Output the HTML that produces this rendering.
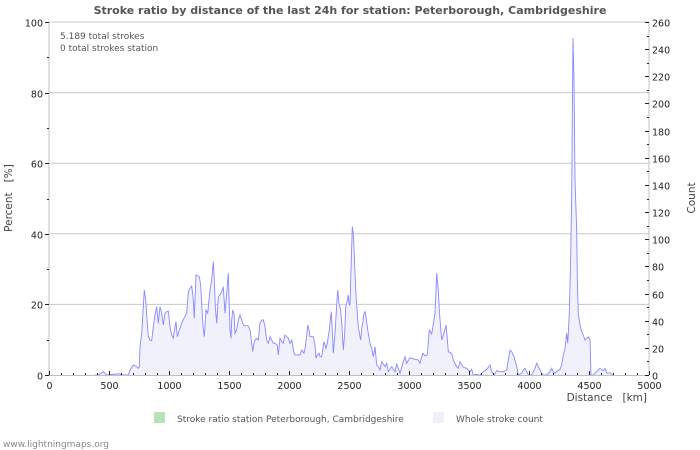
<!DOCTYPE html>
<html><head><meta charset="utf-8"><style>
body{margin:0;background:#fff;}
svg{display:block;font-family:"DejaVu Sans","Liberation Sans",sans-serif;}
</style></head><body>
<svg id="s" width="700" height="450" viewBox="0 0 700 450" xmlns="http://www.w3.org/2000/svg">
<text x="350" y="14" text-anchor="middle" font-size="11" font-weight="bold" fill="#555">Stroke ratio by distance of the last 24h for station: Peterborough, Cambridgeshire</text>
<g id="grid" stroke="#c8c8c8" stroke-width="1"></g>
<path id="area" fill="#f1f1fc" stroke="none"/>
<polyline id="line" fill="none" stroke="#8888ff" stroke-width="0.9"/>
<g id="axes" stroke="#c0c0c0" stroke-width="1"></g>
<g id="ticks" stroke="#222" stroke-width="1"></g>
<g id="labels" font-size="9.5" fill="#222"></g>
<text x="60" y="39" font-size="9" fill="#555">5.189 total strokes</text>
<text x="60" y="51" font-size="9" fill="#555">0 total strokes station</text>
<text x="12" y="198" font-size="10.5" fill="#444" text-anchor="middle" transform="rotate(-90 12 198)">Percent&#160;&#160;&#160;[%]</text>
<text x="695" y="198" font-size="10.5" fill="#444" text-anchor="middle" transform="rotate(-90 695 198)">Count</text>
<text x="647" y="401" font-size="10.5" fill="#444" text-anchor="end">Distance&#160;&#160;&#160;[km]</text>
<rect x="154" y="412" width="11" height="11" fill="#b8e3b8"/>
<text x="177" y="422" font-size="9" fill="#555">Stroke ratio station Peterborough, Cambridgeshire</text>
<rect x="433" y="412" width="11" height="11" fill="#f0f0fc"/>
<text x="456" y="422" font-size="9" fill="#555">Whole stroke count</text>
<text x="3" y="447" font-size="9" fill="#888">www.lightningmaps.org</text>
</svg>
<script>
var NS="http://www.w3.org/2000/svg";
function el(p,t,a){var e=document.createElementNS(NS,t);for(var k in a)e.setAttribute(k,a[k]);document.getElementById(p).appendChild(e);return e;}
var L=49,R=649,T=22,B=375;
for(var p=20;p<=100;p+=20){var y=B-(B-T)*p/100;el('grid','line',{x1:L,x2:R,y1:y,y2:y});}
el('axes','line',{x1:L,x2:L,y1:T,y2:B});el('axes','line',{x1:R,x2:R,y1:T,y2:B});el('axes','line',{x1:L,x2:R,y1:B+0.5,y2:B+0.5});
for(var p=0;p<=100;p+=10){var y=Math.round(B-(B-T)*p/100)+0.5;el('ticks','line',{x1:L-(p%20?2:4),x2:L,y1:y,y2:y});
 if(p%20==0){var t=el('labels','text',{x:L-6,y:y+4,'text-anchor':'end'});t.textContent=p;}}
for(var c=0;c<=260;c+=10){var y=Math.round(B-(B-T)*c/260)+0.5;el('ticks','line',{x1:R-(c%20?2:4),x2:R,y1:y,y2:y});
 if(c%20==0){var t=el('labels','text',{x:R+3,y:y+4});t.textContent=c;}}
for(var d=0;d<=5000;d+=100){var x=Math.round(L+(R-L)*d/5000)+0.5;el('ticks','line',{x1:x,x2:x,y1:B-(d%500?2:4),y2:B});
 if(d%500==0){var t=el('labels','text',{x:x,y:B+14,'text-anchor':'middle'});t.textContent=d;}}
var z1=[165,585,175,585,190,575,200,585,230,582,240,582,245,585,265,585,270,570,280,555,290,560,295,565,298,560,300,500,305,460,310,380,313,330,317,360,322,430,325,470,330,480,335,482,340,440,345,405,350,380,355,430,360,380,365,400,370,435,375,400,380,395,385,393,390,440,395,465,400,475,405,440,408,425,412,470,418,450,425,430,432,415,440,400,445,335,450,325,455,318,460,360,463,415,468,285,475,288,478,290,482,315,486,390,490,450,493,470,498,390,503,400,510,330,515,300,520,245,523,300,526,380,530,430,535,350,540,345,545,335,550,320,555,400,560,340,565,280,570,450,573,475,575,420,578,390,582,400,585,460,590,450,595,420,600,405,605,420,610,435,615,437,620,437,625,438,630,450,635,490,638,515,642,490,645,480,650,475,655,480,660,430,665,420,670,420,675,440,680,480,685,490,690,470,695,480,700,490,705,490,712,495,715,525,718,495,720,475,725,485,730,490,735,465,740,470,745,475,750,490,755,480,758,495,762,520,765,525,770,525,780,525,785,510,792,520,796,500,800,465,803,435,807,450,810,470,820,470,825,495,828,535,832,525,838,520,840,530,845,530,848,510,852,485,858,505,862,490,868,450,872,410,874,395,878,475,880,520,885,460,890,375,893,330,897,370,902,390,906,440,910,510,914,460,917,380,920,370,925,345,928,375,930,375,934,240,937,140,940,160,942,205,945,280,948,345,952,400,955,440,960,470,962,480,965,445,968,430,972,400,975,395,978,410,982,440,985,460,990,490,995,505,1000,530,1005,500,1010,555,1015,560];
var z2=[30,570,35,545,45,560,50,550,55,575,65,560,75,575,80,552,90,580,100,545,105,530,110,550,120,533,135,538,145,540,150,550,158,520,165,527,172,525,178,450,185,462,195,400,200,280,205,330,208,390,212,445,215,480,220,465,228,435,232,475,235,515,245,520,250,540,260,560,265,565,270,545,280,562,290,565,300,575,305,568,310,585,320,583,325,585,330,585,340,575,350,568,360,555,365,575,372,585,380,572,390,575,400,575,410,570,415,540,420,510,425,515,432,530,440,560,445,585,455,580,460,570,465,565,470,575,475,585,485,585,495,565,500,550,505,560,510,570,515,580,520,585,530,585,540,575,545,565,550,575,555,580,560,575,570,568,575,555,580,525,585,505,590,460,593,490,595,460,598,400,602,230,605,40,609,-426,612,-300,615,0,620,150,622,300,625,400,630,435,635,455,640,465,645,480,650,475,655,470,660,480,663,585,670,585,680,575,690,565,700,572,705,565,710,580,720,578,725,583,730,585];
var pts=[];
for(var i=0;i<z1.length;i+=2)pts.push([40+z1[i]/3,180+z1[i+1]/3]);
for(var i=0;i<z2.length;i+=2)pts.push([370+z2[i]/3,180+z2[i+1]/3]);
var s=pts.map(function(p){return p[0].toFixed(1)+','+Math.min(p[1],B).toFixed(1)}).join(' ');
document.getElementById('line').setAttribute('points',s);
document.getElementById('area').setAttribute('d','M'+pts[0][0]+','+B+' L'+s.split(' ').join(' L')+' L'+pts[pts.length-1][0]+','+B+' Z');
</script>
</body></html>
